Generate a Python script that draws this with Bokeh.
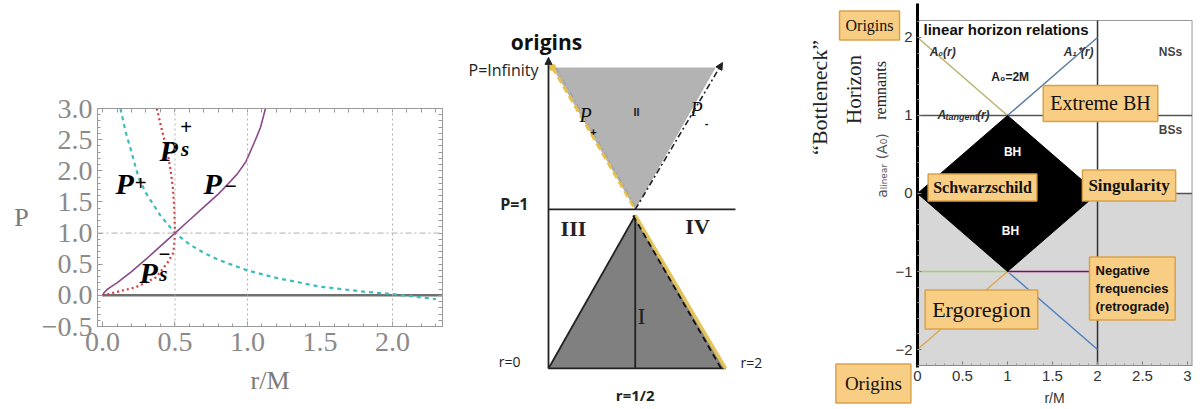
import numpy as np
from bokeh.plotting import figure
from bokeh.layouts import row
from bokeh.models import (Label, Span, Arrow, NormalHead, FixedTicker, LinearAxis, Range1d)
from bokeh.embed import file_html
from bokeh.resources import INLINE
from bokeh.core.properties import value

# ---------------- Panel 1 data (P vs r/M) ----------------
r_p_plus = [0.124, 0.16, 0.2, 0.25, 0.3, 0.4, 0.5, 0.6, 0.7, 0.8, 1.0, 1.2, 1.5, 1.8, 2.0, 2.3]
p_p_plus = [3.0, 2.62, 2.3, 1.88, 1.64, 1.28, 1.0, 0.82, 0.68, 0.57, 0.4, 0.28, 0.14, 0.06, 0.02, -0.06]
r_ps_plus = [0.375, 0.41, 0.446, 0.47, 0.485, 0.495, 0.5]
p_ps_plus = [3.0, 2.65, 2.33, 2.0, 1.74, 1.4, 1.0]
r_ps_minus = [0.0, 0.09, 0.23, 0.37, 0.45, 0.49, 0.5]
p_ps_minus = [0.0, 0.05, 0.13, 0.29, 0.53, 0.69, 1.0]
r_p_minus = [0.0, 0.01, 0.03, 0.06, 0.1, 0.2, 0.3, 0.4, 0.5, 0.6, 0.7, 0.8, 0.87, 0.93, 0.99, 1.05, 1.09, 1.124]
p_p_minus = [0.0, 0.04, 0.09, 0.14, 0.2, 0.38, 0.58, 0.79, 1.0, 1.21, 1.42, 1.63, 1.8, 1.95, 2.15, 2.47, 2.7, 3.0]
zero_r = [0.0, 2.345]
zero_p = [0.0, 0.0]
x1_ticks = [0.0, 0.5, 1.0, 1.5, 2.0]
x1_tick_labels = ["0.0", "0.5", "1.0", "1.5", "2.0"]
y1_ticks = [-0.5, 0.0, 0.5, 1.0, 1.5, 2.0, 2.5, 3.0]
y1_tick_labels = ["\u22120.5", "0.0", "0.5", "1.0", "1.5", "2.0", "2.5", "3.0"]
grid1_r = [0.5, 1.0, 2.0]
grid1_p = [1.0]

# ---------------- Panel 2 data (schematic, u horizontal, v vertical; P=1 at v=0) ----------------
tri_II_u = [0.023, 0.944, 0.49]
tri_II_v = [0.986, 0.986, 0.0]
tri_I_u = [0.0, 1.0, 0.49]
tri_I_v = [-1.104, -1.104, -0.042]
axis_u = [0.0, 0.0]
axis_v = [-1.104, 1.056]
p1line_u = [0.0, 1.056]
p1line_v = [0.0, 0.0]
pminus_u = [0.49, 0.983]
pminus_v = [0.0, 1.02]

# ---------------- Panel 3 data (a_linear vs r/M) ----------------
R3_MAX = 3.05
A3_MIN, A3_MAX = -2.205, 2.218
shade_r = [0.0, R3_MAX]
shade_a = [A3_MIN, 0.0]
bh_r = [0.0, 1.0, 2.0, 1.0]
bh_a = [0.0, 1.0, 0.0, -1.0]
a0_r, a0_a = [0.0, 1.0], [2.0, 1.0]
a1_r, a1_a = [1.0, 2.0], [1.0, 2.0]
lo_or_r, lo_or_a = [0.0, 1.0], [-2.0, -1.0]
lo_bl_r, lo_bl_a = [1.0, 2.0], [-1.0, -2.0]
tan_r, tan_a = [0.0, R3_MAX], [1.0, 1.0]
zero3_r, zero3_a = [0.0, R3_MAX], [0.0, 0.0]
green_r, green_a = [0.0, 1.0], [-1.0, -1.0]
neg_r, neg_a = [1.0, 2.0], [-1.0, -1.0]
vert2_r, vert2_a = [2.0, 2.0], [A3_MIN, A3_MAX]
top3_r, top3_a = [0.0, R3_MAX], [A3_MAX, A3_MAX]
right3_r, right3_a = [R3_MAX, R3_MAX], [A3_MIN, A3_MAX]
x3_ticks = [0.0, 0.5, 1.0, 1.5, 2.0, 2.5, 3.0]
y3_ticks = [-2, -1, 0, 1, 2]
y3_tick_labels = ["\u22122", "\u22121", "0", "1", "2"]

SERIF = "Liberation Serif"
SANS = "Liberation Sans"
OPEN = "Open Sans"

def put(p, x, y, t, size, align="left", baseline="alphabetic", style="bold italic", color="black",
        font=SERIF, angle=0.0):
    p.text(x=[x], y=[y], text=[t], text_font=value(font), text_font_size=size, text_font_style=style,
           text_align=align, text_baseline=baseline, text_color=color, angle=angle)

# =================== Panel 1 ===================
p1 = figure(width=460, height=409, x_range=Range1d(-0.0345, 2.345), y_range=Range1d(-0.5, 3.0),
            output_backend="svg", toolbar_location=None,
            min_border_left=97, min_border_right=18, min_border_top=108, min_border_bottom=83)
p1.frame_align = False
p1.grid.visible = False
p1.outline_line_color = "#9a9a9a"

for r in grid1_r:
    p1.add_layout(Span(location=r, dimension="height", line_color="#b0b0b0", line_dash="2 3", line_width=1))
for pp in grid1_p:
    p1.add_layout(Span(location=pp, dimension="width", line_color="#b0b0b0", line_dash="6 3 2 3", line_width=1))

p1.line(zero_r, zero_p, line_color="#707070", line_width=2.5)
p1.line(r_p_plus, p_p_plus, line_color="#3cbcbc", line_width=2.2, line_dash="4 4")
p1.line(r_ps_plus, p_ps_plus, line_color="#d23c3c", line_width=2.2, line_dash="2 3")
p1.line(r_ps_minus, p_ps_minus, line_color="#d23c3c", line_width=2.2, line_dash="2 3")
p1.line(r_p_minus, p_p_minus, line_color="#8a4a8a", line_width=1.6)

for ax in (p1.xaxis[0], p1.yaxis[0]):
    ax.axis_line_color = "#9a9a9a"
    ax.major_tick_line_color = "#9a9a9a"
    ax.minor_tick_line_color = "#9a9a9a"
    ax.major_tick_in = 5
    ax.major_tick_out = 0
    ax.minor_tick_in = 3
    ax.minor_tick_out = 0
    ax.major_label_text_font = SERIF
    ax.major_label_text_font_size = "28px"
    ax.major_label_text_color = "#8a8a8a"
    ax.axis_label_text_font = SERIF
    ax.axis_label_text_font_style = "normal"
    ax.axis_label_text_font_size = "26px"
    ax.axis_label_text_color = "#7a7a7a"
minor_x1 = list(np.round(np.arange(0, 2.35, 0.1), 2))
minor_y1 = list(np.round(np.arange(-0.5, 3.01, 0.1), 2))
p1.xaxis.ticker = FixedTicker(ticks=x1_ticks, minor_ticks=minor_x1)
p1.xaxis.major_label_overrides = dict(zip(x1_ticks, x1_tick_labels))
p1.yaxis.ticker = FixedTicker(ticks=y1_ticks, minor_ticks=minor_y1)
p1.yaxis.major_label_overrides = dict(zip(y1_ticks, y1_tick_labels))
p1.xaxis.axis_label = "r/M"
p1.yaxis.axis_label = "P"
p1.yaxis.axis_label_orientation = "horizontal"
p1.xaxis.major_label_standoff = 6
p1.xaxis.axis_label_standoff = 12
p1.yaxis.major_label_standoff = 5
p1.yaxis.axis_label_standoff = 10

# mirrored tick marks on top and right (no labels)
for loc, mins in (("above", minor_x1), ("right", minor_y1)):
    ax = LinearAxis(ticker=FixedTicker(ticks=[], minor_ticks=mins),
                    axis_line_color="#9a9a9a", minor_tick_line_color="#9a9a9a",
                    minor_tick_in=4, minor_tick_out=0, major_tick_in=0, major_tick_out=0)
    p1.add_layout(ax, loc)

BIG = "30px"
SMALL = "21px"
put(p1, 0.09, 1.80, "P", BIG)
put(p1, 0.262, 1.81, "+", SMALL, align="center", baseline="middle")
put(p1, 0.393, 2.33, "P", BIG)
put(p1, 0.575, 2.71, "+", SMALL, align="center", baseline="middle")
put(p1, 0.57, 2.35, "s", SMALL, align="center", baseline="middle")
put(p1, 0.697, 1.80, "P", BIG)
put(p1, 0.882, 1.76, "\u2212", SMALL, align="center", baseline="middle")
put(p1, 0.255, 0.37, "P", BIG)
put(p1, 0.425, 0.67, "\u2212", SMALL, align="center", baseline="middle")
put(p1, 0.42, 0.345, "s", SMALL, align="center", baseline="middle")

# =================== Panel 2 (schematic) ===================
p2 = figure(width=330, height=409, x_range=Range1d(-0.497, 1.367), y_range=Range1d(-1.389, 1.451),
            output_backend="svg", toolbar_location=None, min_border=0,
            x_axis_location=None, y_axis_location=None)
p2.frame_align = False
p2.grid.visible = False
p2.outline_line_color = None

p2.patch(tri_II_u, tri_II_v, fill_color="#b3b3b3", line_color=None)
p2.patch(tri_I_u, tri_I_v, fill_color="#808080", line_color=None)
p2.line(p1line_u, p1line_v, line_color="#222", line_width=1.8)
p2.line(tri_I_u[:2], tri_I_v[:2], line_color="#222", line_width=1.8)
p2.line([tri_I_u[0], tri_I_u[2]], [tri_I_v[0], tri_I_v[2]], line_color="#222", line_width=1.8)
p2.line([tri_I_u[2], tri_I_u[2]], [tri_I_v[2], tri_I_v[0]], line_color="#222", line_width=1.8)
p2.line([tri_II_u[0], tri_II_u[2]], [tri_II_v[0], tri_II_v[2]], line_color="#e6c04a", line_width=3, line_dash="7 4")
p2.line([tri_II_u[0] + 0.02, tri_II_u[2] + 0.01], [tri_II_v[0], tri_II_v[2]], line_color="#9a9a9a",
        line_width=1, line_dash="6 3 2 3")
p2.line([tri_I_u[2], tri_I_u[1]], [tri_I_v[2], tri_I_v[1]], line_color="#e3c35a", line_width=3.5)
p2.line([tri_I_u[2] - 0.012, tri_I_u[1] - 0.025], [tri_I_v[2], tri_I_v[1]], line_color="#111",
        line_width=1.8, line_dash="6 4")
p2.scatter([tri_II_u[0]], [tri_II_v[0]], size=7, fill_color="#e6c04a", line_color=None)
p2.add_layout(Arrow(end=NormalHead(size=7, fill_color="#222", line_color="#222"),
                    x_start=axis_u[0], y_start=axis_v[0], x_end=axis_u[1], y_end=axis_v[1],
                    line_color="#222", line_width=1.8))
p2.add_layout(Arrow(end=NormalHead(size=7, fill_color="#222", line_color="#222"),
                    x_start=pminus_u[0], y_start=pminus_v[0], x_end=pminus_u[1], y_end=pminus_v[1],
                    line_color="#222", line_width=1.6, line_dash="6 3 2 3"))

put(p2, -0.011, 1.16, "origins", "21px", align="center", baseline="middle", style="bold", font=OPEN, color="#111")
put(p2, -0.056, 0.965, "P=Infinity", "16px", align="right", baseline="middle", style="normal", font=OPEN, color="#222")
put(p2, -0.113, 0.04, "P=1", "16px", align="right", baseline="middle", style="bold", font=OPEN, color="#222")
put(p2, -0.22, -1.056, "r=0", "14px", align="center", baseline="middle", style="normal", font=OPEN, color="#222")
put(p2, 1.085, -1.06, "r=2", "14px", align="left", baseline="middle", style="normal", font=OPEN, color="#222")
put(p2, 0.49, -1.29, "r=1/2", "15px", align="center", baseline="middle", style="bold", font=OPEN, color="#222")
put(p2, 0.141, -0.132, "III", "22px", align="center", baseline="middle", style="bold", font=SERIF, color="#222")
put(p2, 0.842, -0.118, "IV", "22px", align="center", baseline="middle", style="bold", font=SERIF, color="#222")
put(p2, 0.497, 0.68, "II", "11px", align="center", baseline="middle", style="bold", font=SANS, color="#222")
put(p2, 0.525, -0.743, "I", "24px", align="center", baseline="middle", style="normal", font=SERIF, color="#222")
put(p2, 0.209, 0.653, "P", "20px", align="center", baseline="middle", style="italic", font=SERIF, color="#111")
put(p2, 0.254, 0.535, "+", "11px", align="center", baseline="middle", style="bold", font=SANS, color="#111")
put(p2, 0.836, 0.70, "P", "20px", align="center", baseline="middle", style="italic", font=SERIF, color="#111")
put(p2, 0.893, 0.597, "-", "11px", align="center", baseline="middle", style="bold", font=SANS, color="#111")

# =================== Panel 3 ===================
p3 = figure(width=410, height=409, x_range=Range1d(-1.411, 3.144), y_range=Range1d(-2.769, 2.474),
            output_backend="svg", toolbar_location=None, min_border=0)
p3.frame_align = False
p3.grid.visible = False
p3.outline_line_color = None

p3.quad(left=[shade_r[0]], right=[shade_r[1]], bottom=[shade_a[0]], top=[shade_a[1]],
        fill_color="#d7d7d7", line_color=None)
p3.line(top3_r, top3_a, line_color="#999", line_width=1)
p3.line(right3_r, right3_a, line_color="#999", line_width=1)
p3.line(tan_r, tan_a, line_color="#555", line_width=1.5)
p3.line(zero3_r, zero3_a, line_color="#555", line_width=1.5)
p3.line(vert2_r, vert2_a, line_color="#333", line_width=1.5)
p3.line(a0_r, a0_a, line_color="#b9b46c", line_width=1.5)
p3.line(a1_r, a1_a, line_color="#5d7fa3", line_width=1.5)
p3.line(lo_or_r, lo_or_a, line_color="#e2a552", line_width=1.5)
p3.line(lo_bl_r, lo_bl_a, line_color="#4f83c2", line_width=1.5)
p3.line(green_r, green_a, line_color="#9fd26b", line_width=1.5)
p3.line(neg_r, neg_a, line_color="#e8c8e0", line_width=3.5)
p3.line(neg_r, neg_a, line_color="#4b2d4b", line_width=1.5)
p3.patch(bh_r, bh_a, fill_color="black", line_color="black")

xa, ya = p3.xaxis[0], p3.yaxis[0]
xa.fixed_location = A3_MIN
xa.bounds = (0.0, R3_MAX)
ya.fixed_location = 0.0
ya.bounds = (-2.23, 2.436)
xa.ticker = FixedTicker(ticks=x3_ticks, minor_ticks=list(np.round(np.arange(0, 3.01, 0.1), 2)))
xa.axis_line_color = "#888"
ya.ticker = FixedTicker(ticks=y3_ticks, minor_ticks=list(np.round(np.arange(-2.2, 2.21, 0.2), 2)))
ya.major_label_overrides = dict(zip(y3_ticks, y3_tick_labels))
ya.axis_line_color = "black"
ya.axis_line_width = 3
for ax in (xa, ya):
    ax.major_tick_in = 4
    ax.major_tick_out = 0
    ax.minor_tick_in = 2
    ax.minor_tick_out = 0
    ax.major_tick_line_color = "#777"
    ax.minor_tick_line_color = "#999"
    ax.major_label_text_font = SANS
    ax.major_label_text_font_size = "15px"
    ax.major_label_text_color = "#333"
    ax.major_label_standoff = 5

def txt3(x, y, t, size, style="bold", color="#222", align="center", font=SANS):
    put(p3, x, y, t, size, align=align, baseline="middle", style=style, color=color, font=font)

txt3(1.522, -2.62, "r/M", "14px", style="normal", color="#333")
txt3(0.067, 2.10, "linear horizon relations", "15px", align="left", color="#111")
txt3(0.28, 1.81, "A\u2080(r)", "12px", style="bold italic", color="#333")
txt3(1.79, 1.81, "A\u2081\u207a(r)", "12px", style="bold italic", color="#333")
txt3(1.03, 1.49, "A\u2080=2M", "12px", color="#222")
txt3(0.222, 1.01, "A", "12px", style="bold italic", color="#333", align="left")
txt3(0.311, 0.98, "tangent", "9px", style="bold italic", color="#333", align="left")
txt3(0.66, 1.01, "(r)", "12px", style="bold italic", color="#333", align="left")
txt3(2.81, 1.81, "NSs", "12px", color="#444")
txt3(2.81, 0.82, "BSs", "12px", color="#444")
txt3(1.056, 0.526, "BH", "12px", color="white")
txt3(1.033, -0.487, "BH", "12px", color="white")

BOX_FILL = "#f8cd84"
BOX_LINE = "#d9a24a"
def boxlabel(x, y, t, size, font, style="normal", pad=6, align="center"):
    p3.add_layout(Label(x=x, y=y, text=t, text_font=font, text_font_size=size, text_font_style=style,
                        text_align=align, text_baseline="middle", text_color="#111",
                        background_fill_color=BOX_FILL, border_line_color=BOX_LINE, border_line_width=1.5,
                        padding=pad))

boxlabel(2.033, 1.154, "Extreme BH", "20px", SERIF, pad=7)
boxlabel(0.722, 0.077, "Schwarzschild", "16px", "Liberation Sans Narrow", style="bold", pad=5)
boxlabel(2.35, 0.103, "Singularity", "17px", "Liberation Sans Narrow", style="bold", pad=6)
boxlabel(1.911, -1.218, "Negative\nfrequencies\n(retrograde)", "13px", SANS, style="bold", pad=6, align="left")
boxlabel(0.71, -1.487, "Ergoregion", "22px", SERIF, pad=7)
boxlabel(-0.533, 2.154, "Origins", "16px", SERIF, pad=6)
boxlabel(-0.49, -2.436, "Origins", "19px", SERIF, pad=9)

def rot(x, y, t, size, font, color="#222"):
    p3.add_layout(Label(x=x, y=y, text=t, text_font=font, text_font_size=size, text_font_style="normal",
                        text_align="center", text_baseline="middle", text_color=color,
                        angle=90, angle_units="deg"))

rot(-1.089, 1.231, "\u201cBottleneck\u201d", "22px", SERIF)
rot(-0.711, 1.333, "Horizon", "21px", SERIF)
rot(-0.411, 1.321, "remnants", "16px", SERIF)
rot(-0.40, 0.359, "a\u2097\u1d62\u2099\u2091\u2090\u1d63 (A\u2080)", "14px", "DejaVu Sans", color="#555")

layout = row(p1, p2, p3, spacing=0)
open("out.html", "w").write(file_html(layout, INLINE))
